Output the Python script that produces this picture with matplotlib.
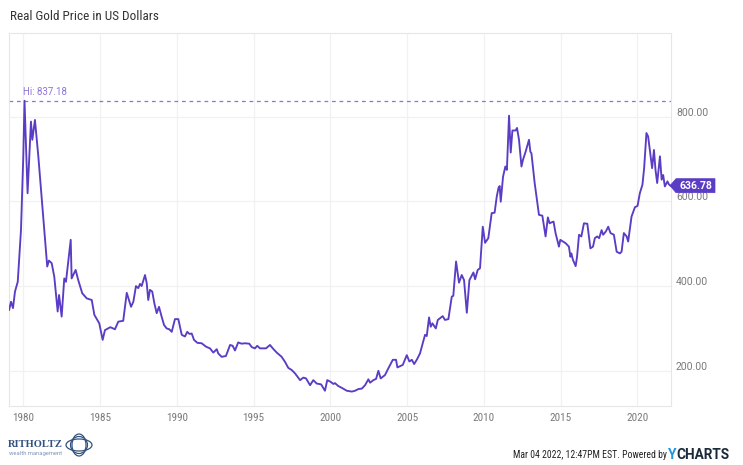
import matplotlib
matplotlib.use("Agg")
import matplotlib.pyplot as plt
from matplotlib import font_manager
from matplotlib.patches import Polygon, Ellipse
import matplotlib.transforms as mtransforms

# ---------------- data ----------------
years = [1979.08, 1979.2, 1979.33, 1979.46, 1979.64, 1979.85, 1980.0, 1980.08, 1980.28, 1980.5,
         1980.59, 1980.76, 1980.98, 1981.24, 1981.56, 1981.67, 1981.85, 1982.02, 1982.24, 1982.33,
         1982.5, 1982.67, 1982.78, 1983.09, 1983.15, 1983.41, 1983.58, 1983.84, 1984.13, 1984.46,
         1984.63, 1984.95, 1985.17, 1985.32, 1985.67, 1985.97, 1986.19, 1986.51, 1986.74, 1987.02,
         1987.17, 1987.34, 1987.49, 1987.6, 1987.71, 1987.93, 1988.04, 1988.14, 1988.25, 1988.4,
         1988.54, 1988.69, 1988.84, 1989.01, 1989.17, 1989.34, 1989.51, 1989.67, 1989.88, 1990.1,
         1990.32, 1990.53, 1990.68, 1990.82, 1990.97, 1991.12, 1991.34, 1991.62, 1991.9, 1992.16,
         1992.38, 1992.6, 1992.7, 1992.92, 1993.2, 1993.47, 1993.64, 1993.79, 1994.0, 1994.22,
         1994.44, 1994.72, 1994.88, 1995.09, 1995.24, 1995.42, 1995.81, 1996.07, 1996.25, 1996.51,
         1996.83, 1997.05, 1997.26, 1997.48, 1997.7, 1998.03, 1998.24, 1998.42, 1998.68, 1998.89,
         1999.11, 1999.4, 1999.65, 1999.8, 2000.02, 2000.2, 2000.3, 2000.52, 2000.74, 2001.07,
         2001.4, 2001.61, 2001.83, 2002.05, 2002.26, 2002.48, 2002.59, 2002.8, 2002.98, 2003.13,
         2003.28, 2003.56, 2003.78, 2004.07, 2004.28, 2004.37, 2004.72, 2004.98, 2005.15, 2005.31,
         2005.46, 2005.63, 2005.84, 2006.17, 2006.28, 2006.43, 2006.54, 2006.65, 2006.87, 2007.0,
         2007.32, 2007.47, 2007.69, 2007.91, 2008.01, 2008.19, 2008.38, 2008.56, 2008.71, 2008.89,
         2009.06, 2009.32, 2009.43, 2009.6, 2009.75, 2009.93, 2010.08, 2010.29, 2010.51, 2010.7,
         2010.84, 2010.95, 2011.03, 2011.1, 2011.25, 2011.4, 2011.5, 2011.64, 2011.75, 2011.86,
         2012.07, 2012.16, 2012.29, 2012.45, 2012.55, 2012.72, 2012.94, 2013.03, 2013.1, 2013.31,
         2013.59, 2013.81, 2014.02, 2014.17, 2014.28, 2014.39, 2014.54, 2014.67, 2014.89, 2014.98,
         2015.15, 2015.33, 2015.54, 2015.64, 2015.7, 2015.8, 2015.98, 2016.07, 2016.2, 2016.35,
         2016.52, 2016.74, 2016.94, 2017.11, 2017.23, 2017.38, 2017.51, 2017.67, 2017.77, 2017.95,
         2018.1, 2018.25, 2018.47, 2018.65, 2018.86, 2018.97, 2019.12, 2019.3, 2019.4, 2019.62,
         2019.84, 2020.01, 2020.16, 2020.33, 2020.44, 2020.59, 2020.7, 2020.81, 2020.96, 2021.08,
         2021.18, 2021.29, 2021.47, 2021.58, 2021.68, 2021.79, 2021.96, 2022.05, 2022.15]
prices = [344, 363, 348, 387, 410, 532, 705, 837.18, 619, 788,
          745, 792, 706, 588, 446, 460, 454, 422, 340, 379,
          328, 418, 410, 509, 418, 438, 414, 383, 371, 367,
          332, 312, 273, 296, 303, 298, 316, 318, 384, 351,
          363, 400, 395, 405, 400, 426, 407, 367, 391, 387,
          359, 336, 351, 328, 308, 300, 298, 292, 322, 322,
          285, 281, 292, 287, 288, 273, 266, 265, 257, 253,
          243, 251, 241, 233, 235, 261, 259, 248, 267, 264,
          265, 264, 256, 253, 259, 253, 253, 261, 253, 243,
          233, 221, 207, 202, 194, 178, 184, 182, 166, 178,
          170, 168, 153, 178, 174, 169, 171, 164, 160, 153,
          151, 153, 157, 158, 166, 180, 172, 178, 181, 200,
          182, 190, 206, 226, 226, 208, 214, 237, 222, 226,
          216, 226, 241, 285, 282, 326, 304, 312, 300, 320,
          329, 320, 322, 375, 377, 458, 408, 426, 414, 337,
          414, 432, 416, 438, 442, 540, 502, 513, 572, 573,
          611, 631, 636, 599, 658, 682, 674, 802, 715, 767,
          767, 773, 745, 682, 698, 717, 745, 717, 713, 643,
          568, 566, 517, 562, 548, 550, 552, 525, 493, 509,
          505, 501, 493, 469, 477, 462, 447, 469, 521, 517,
          548, 547, 489, 493, 513, 517, 513, 532, 521, 529,
          540, 525, 521, 481, 477, 481, 525, 517, 505, 564,
          586, 589, 619, 639, 678, 761, 753, 721, 678, 721,
          674, 643, 706, 651, 662, 635, 647, 640, 636.78]
x_ticks = [1980, 1985, 1990, 1995, 2000, 2005, 2010, 2015, 2020]
y_ticks = [200, 400, 600, 800]
y_tick_labels = ["200.00", "400.00", "600.00", "800.00"]
title = "Real Gold Price in US Dollars"
hi_value = 837.18
last_value = 636.78
footer = "Mar 04 2022, 12:47PM EST. Powered by"

# ---------------- fonts ----------------
names = {f.name for f in font_manager.fontManager.ttflist}
cond = None
for n in ["Roboto Condensed", "Liberation Sans Narrow", "Arial Narrow"]:
    if n in names:
        cond = n
        break
COND = [cond, "Roboto", "DejaVu Sans"] if cond else ["Roboto", "DejaVu Sans"]
REG = ["Roboto", "DejaVu Sans"]

LINE = "#5b3cc4"
HI = "#8f74d8"
GRID = "#f1f1f1"
TXT = "#7a7a7a"

W, H = 743, 465
fig = plt.figure(figsize=(W / 100, H / 100), dpi=100)
fig.patch.set_facecolor("white")

ax_l, ax_r, ax_t, ax_b = 9, 671, 33, 406
ax = fig.add_axes([ax_l / W, 1 - ax_b / H, (ax_r - ax_l) / W, (ax_b - ax_t) / H])
ax.set_xlim(1979.07, 2022.19)
ax.set_ylim(117, 997)

ax.plot(years, prices, color=LINE, lw=1.35, solid_joinstyle="round", zorder=3)

# grid
for xv in x_ticks:
    ax.axvline(xv, color=GRID, lw=0.9, zorder=0)
for yv in y_ticks:
    ax.axhline(yv, color=GRID, lw=0.9, zorder=0)
for s in ax.spines.values():
    s.set_color("#e6e6e6")
    s.set_linewidth(0.8)

# x ticks
ax.set_xticks(x_ticks)
ax.set_xticklabels([str(v) for v in x_ticks], family=COND, fontsize=8, color=TXT)
ax.tick_params(axis="x", length=0, pad=5)
ax.set_yticks([])

# y tick labels (right side, slightly above gridline)
ytrans = mtransforms.offset_copy(ax.get_yaxis_transform(), fig=fig, x=5, y=4, units="dots")
for yv, lab in zip(y_ticks, y_tick_labels):
    ax.text(1.0, yv, lab, transform=ytrans, ha="left", va="center",
            family=REG, fontsize=7.5, color=TXT, clip_on=False)

# high line + label
ax.axhline(hi_value, color=HI, lw=0.9, ls=(0, (3, 3)), zorder=2)
ax.text(1979.95, hi_value, f"Hi: {hi_value:.2f}", transform=mtransforms.offset_copy(
    ax.transData, fig=fig, y=4, units="dots"), ha="left", va="bottom",
    family=REG, fontsize=7.0, color=HI)

# last value tag
tip = ax.transData.transform((ax.get_xlim()[1], last_value))
tx, ty = tip[0] - 1, tip[1]
verts_px = [(tx, ty), (tx + 6, ty + 7), (tx + 45, ty + 7), (tx + 45, ty - 7), (tx + 6, ty - 7)]
verts = [fig.transFigure.inverted().transform(v) for v in verts_px]
fig.patches.append(Polygon(verts, closed=True, transform=fig.transFigure,
                           facecolor=LINE, edgecolor=LINE, lw=0.5, figure=fig))
cx, cy = fig.transFigure.inverted().transform((tx + 26, ty))
fig.text(cx, cy, f"{last_value:.2f}", ha="center", va="center", color="white",
         family=REG, fontsize=7.5, fontweight="bold")

# title
fig.text(10 / W, 1 - 17 / H, title, ha="left", va="center", family=COND,
         fontsize=9.5, color="#333333")

# footer
yc = 1 - 455 / H
fig.text(667 / W, yc, footer, ha="right", va="center", family=COND,
         fontsize=7, color="#222222")
fig.text(668 / W, yc, "Y", ha="left", va="center", family=REG,
         fontsize=10, fontweight="bold", color="#2196e0")
fig.text(676 / W, yc, "CHARTS", ha="left", va="center", family=REG,
         fontsize=9.8, fontweight="bold", color="#1b2a3a")

# logo
fig.text(8 / W, 1 - 444 / H, "RITHOLTZ", ha="left", va="center",
         family=["Liberation Serif", "DejaVu Serif"], fontsize=7.6, fontweight="bold",
         color="#34527f")
fig.text(9 / W, 1 - 453 / H, "wealth management", ha="left", va="center",
         family=REG, fontsize=4.2, color="#7f97bb")
c = fig.transFigure.inverted().transform((79, H - 445))
for (w, h, ang) in [(26, 12, 0), (14, 22, 0), (17, 17, 0)]:
    e = Ellipse(c, w / W, h / H, angle=ang, transform=fig.transFigure,
                fill=False, edgecolor="#34527f", lw=0.9)
    fig.patches.append(e)

fig.savefig("out.png", dpi=100, facecolor="white")
